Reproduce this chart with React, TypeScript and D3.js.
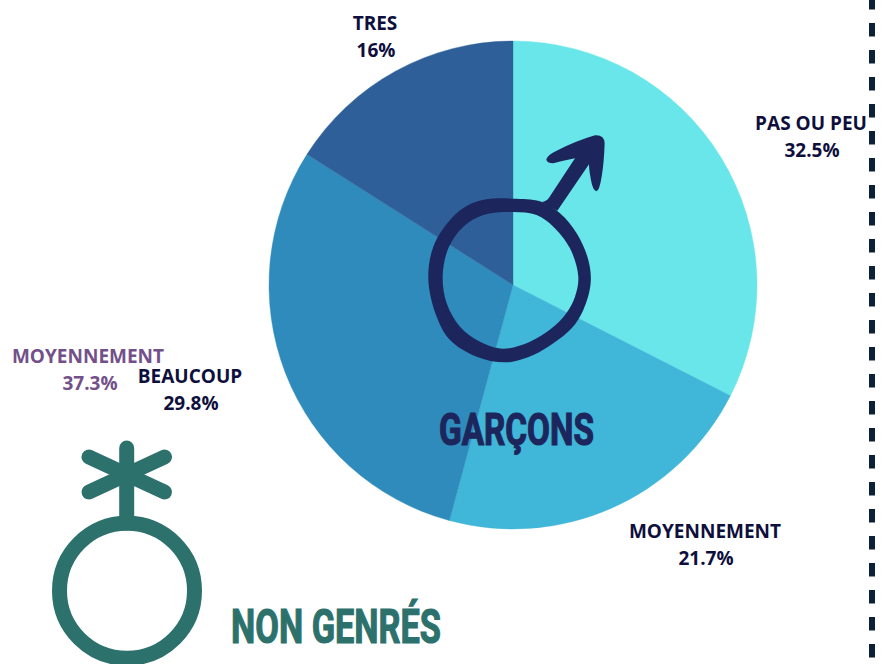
import React from "react";
import * as d3 from "d3";

const categories = ["PAS OU PEU", "MOYENNEMENT", "BEAUCOUP", "TRES"];
const values = [32.5, 21.7, 29.8, 16];
const valueLabels = ["32.5%", "21.7%", "29.8%", "16%"];
const colors = ["#68e6ea", "#40b6d8", "#2e8bbb", "#2e5f99"];
const labelCenters = [[811, 130], [705, 538], [190, 383], [375, 30]];
const otherLabel = ["MOYENNEMENT", "37.3%"];

const ringOuter: [number, number][] = [[200,238],[280,236],[360,244],[420,280],[470,340],[505,420],[512,490],[490,570],[455,625],[400,670],[340,705],[260,727],[170,710],[90,660],[50,590],[25,480],[40,380],[90,300],[140,258]];
const ringInner: [number, number][] = [[280,276],[350,285],[400,320],[450,385],[475,470],[465,530],[440,578],[395,625],[330,665],[250,686],[180,665],[120,620],[80,550],[68,470],[85,385],[130,320],[190,285]];
const arrowPath = "M365,246 Q380,245 388,232 L465,115 Q430,122 400,130 Q380,130 379,118 Q382,105 410,92 Q470,62 525,46 Q553,44 554,70 Q552,130 545,170 Q538,213 529,214 Q518,210 513,180 Q507,150 507,133 L412,272 Z";

export default function App() {
  const cx = 513, cy = 285, r = 244;
  const pie = d3.pie<number>().sort(null)(values);
  const arc = d3.arc<d3.PieArcDatum<number>>().innerRadius(0).outerRadius(r);
  const closed = d3.line().curve(d3.curveCatmullRomClosed.alpha(0.5));
  const dashes = d3.range(-4, 660, 27);
  const labelFont = "'Open Sans', sans-serif";
  const displayFont = "'Liberation Sans Narrow', 'Roboto', sans-serif";
  return (
    <svg width={882} height={664} style={{ position: "absolute", left: 0, top: 0, background: "#fff" }}>
      <g transform={`translate(${cx},${cy})`}>
        {pie.map((d, i) => <path key={i} d={arc(d) as string} fill={colors[i]} stroke={colors[i]} strokeWidth={0.4} />)}
      </g>
      {dashes.map((y) => <rect key={y} x={869} y={y} width={6} height={13.5} fill="#0c2138" />)}

      <g transform="translate(420,120) scale(0.3333)" fill="#1d265c">
        <path fillRule="evenodd" d={`${closed(ringOuter)} ${closed(ringInner)}`} />
        <path d={arrowPath} />
      </g>

      {categories.map((c, i) => (
        <text key={c} fontFamily={labelFont} fontWeight={700} fontSize={19} fill="#0e0f3d" textAnchor="middle">
          <tspan x={labelCenters[i][0]} y={labelCenters[i][1]}>{c}</tspan>
          <tspan x={labelCenters[i][0] + 1} y={labelCenters[i][1] + 27}>{valueLabels[i]}</tspan>
        </text>
      ))}
      <text fontFamily={labelFont} fontWeight={700} fontSize={19} fill="#74508a" textAnchor="middle">
        <tspan x={88} y={363}>{otherLabel[0]}</tspan>
        <tspan x={90} y={390}>{otherLabel[1]}</tspan>
      </text>

      <text x={439} y={445} fontFamily={displayFont} fontWeight={700} fontSize={44} fill="#1d265c" stroke="#1d265c" strokeWidth={1.2} textLength={155} lengthAdjust="spacingAndGlyphs">GARÇONS</text>
      <text x={231} y={643} fontFamily={displayFont} fontWeight={700} fontSize={48} fill="#2c716c" stroke="#2c716c" strokeWidth={1.2} textLength={210} lengthAdjust="spacingAndGlyphs">NON GENRÉS</text>

      <g stroke="#2c716c" strokeWidth={15} fill="none" strokeLinecap="round">
        <circle cx={127} cy={590.7} r={67.5} />
        <line x1={126.7} y1={448} x2={126.7} y2={523} />
        <line x1={89} y1={457} x2={164.5} y2={492} />
        <line x1={89} y1={492} x2={164.5} y2={457} />
      </g>
    </svg>
  );
}
